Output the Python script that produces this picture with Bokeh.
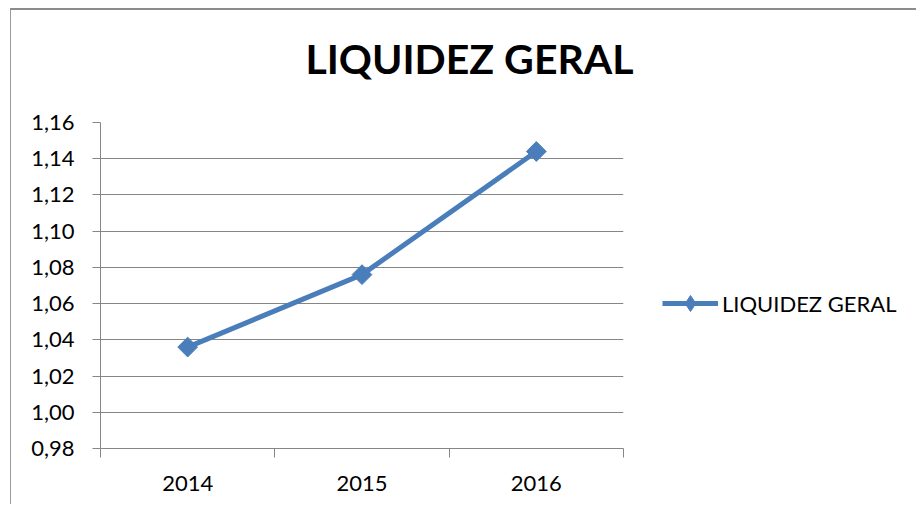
from bokeh.plotting import figure
from bokeh.models import (FixedTicker, CustomJSTickFormatter, Legend, LegendItem,
                          Range1d, ColumnDataSource, Label)
from bokeh.embed import file_html
from bokeh.resources import INLINE
import math

# ---- data ----
categories = ["2014", "2015", "2016"]
values = [1.036, 1.076, 1.144]
series_name = "LIQUIDEZ GERAL"
title_text = "LIQUIDEZ GERAL"
y_ticks = [0.98, 1.00, 1.02, 1.04, 1.06, 1.08, 1.10, 1.12, 1.14, 1.16]

BLUE = "#4A7EBB"
GRAY = "#868686"
FONT = "Lato"

# host offsets (border of the chart area sits at x=11, y=9)
OX, OY = 10, 8

xs = [i + 0.5 for i in range(len(categories))]
src = ColumnDataSource(dict(x=xs, y=values))

p = figure(frame_width=523, frame_height=326, output_backend="svg", toolbar_location=None,
           x_range=Range1d(0, len(categories)), y_range=Range1d(min(y_ticks), max(y_ticks)),
           min_border_left=100 - OX - 1, min_border_top=122 - OY - 2,
           min_border_bottom=56, min_border_right=280)
p.styles = {"border-top": "2px solid #8c8c8c", "border-left": "1px solid #9a9a9a",
            "margin-left": f"{OX}px", "margin-top": f"{OY}px"}
p.outline_line_color = None
p.background_fill_color = "white"
p.border_fill_color = "white"

# title (placed in the top panel, canvas coordinates)
p.add_layout(Label(x=457, y=46, x_units="canvas", y_units="canvas", text=title_text,
                   text_font=FONT, text_font_style="bold", text_font_size="41px",
                   text_align="center", text_baseline="middle", text_color="black"),
             "above")

# axes
p.xaxis.ticker = FixedTicker(ticks=xs, minor_ticks=list(range(len(categories) + 1)))
p.xaxis.major_label_overrides = {x: c for x, c in zip(xs, categories)}
p.xaxis.major_tick_line_color = None
p.xaxis.major_tick_out = 9
p.xaxis.major_tick_in = 0
p.xaxis.minor_tick_out = 9
p.xaxis.minor_tick_in = 0
p.xaxis.minor_tick_line_color = GRAY
p.xaxis.axis_line_color = GRAY
p.xaxis.major_label_standoff = 18
p.xaxis.major_label_text_font = FONT
p.xaxis.major_label_text_font_size = "22px"
p.xaxis.major_label_text_color = "black"

p.yaxis.ticker = FixedTicker(ticks=y_ticks, minor_ticks=[])
p.yaxis.formatter = CustomJSTickFormatter(code="return tick.toFixed(2).replace('.', ',');")
p.yaxis.major_tick_out = 8
p.yaxis.major_tick_in = 0
p.yaxis.major_tick_line_color = GRAY
p.yaxis.axis_line_color = GRAY
p.yaxis.major_label_standoff = 18
p.yaxis.major_label_text_font = FONT
p.yaxis.major_label_text_font_size = "22px"
p.yaxis.major_label_text_color = "black"

p.xgrid.grid_line_color = None
p.ygrid.grid_line_color = GRAY
p.ygrid.ticker = FixedTicker(ticks=y_ticks)

# series
r_line = p.line("x", "y", source=src, line_color=BLUE, line_width=5)
r_pts = p.scatter("x", "y", source=src, marker="square", size=14, angle=math.pi / 4,
                  fill_color=BLUE, line_color=BLUE)
# hidden twin used only for the legend's diamond symbol
r_leg = p.scatter("x", "y", source=src, marker="diamond", size=14,
                  fill_color=BLUE, line_color=BLUE, visible=False)

legend = Legend(items=[LegendItem(label=series_name, renderers=[r_line, r_leg])],
                location=(39, 125), orientation="vertical",
                border_line_color=None, background_fill_alpha=0,
                glyph_width=56, glyph_height=40, label_standoff=4, padding=0, margin=0,
                label_text_font=FONT, label_text_font_size="22px",
                label_text_color="black")
p.add_layout(legend, "right")

open("out.html", "w").write(file_html(p, INLINE))
